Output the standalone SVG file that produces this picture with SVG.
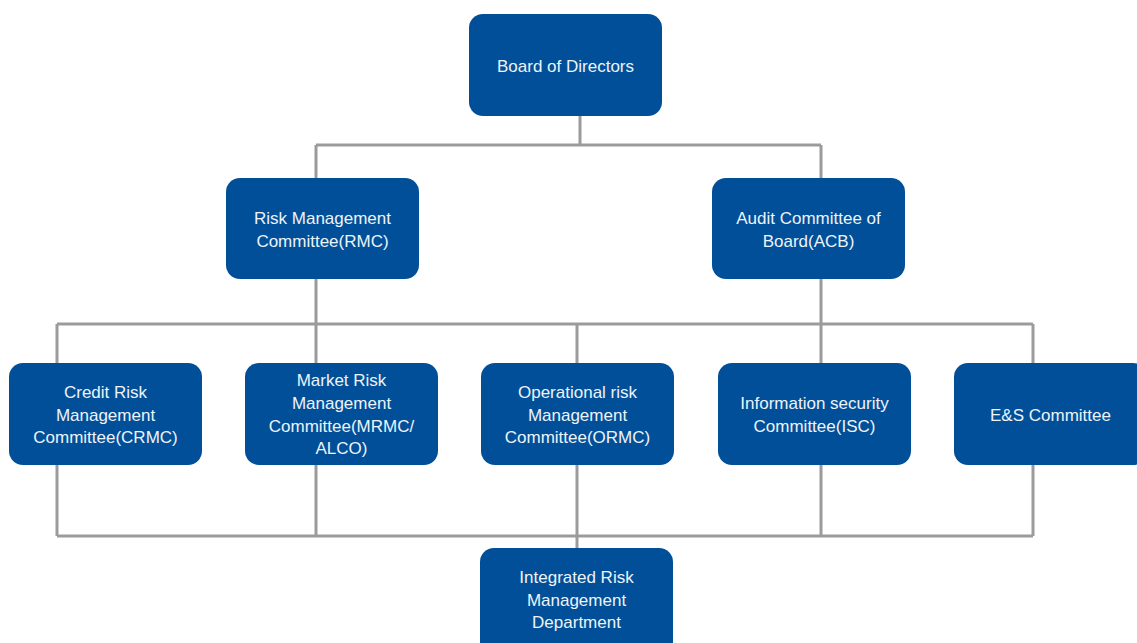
<svg xmlns="http://www.w3.org/2000/svg" width="1137" height="643" viewBox="0 0 1137 643">
<style>
.box{fill:#004f98;}
.t{font-family:"Liberation Sans",Arial,sans-serif;font-size:17px;fill:#eef3f8;text-anchor:middle;}
.c{stroke:#9b9b9b;stroke-width:3;fill:none;}
</style>
<rect width="1137" height="643" fill="#ffffff"/>
<g id="connectors">
<path class="c" d="M580 116V145M316 145H821M316 145V178M821 145V178"/>
<path class="c" d="M316 279V324M821 279V324M57 324H1033M57 324V363M316 324V363M577 324V363M821 324V363M1033 324V363"/>
<path class="c" d="M57 465V536M316 465V536M577 465V548M821 465V536M1033 465V536M57 536H1033"/>
</g>
<g id="board">
<rect class="box" x="469" y="14" width="193" height="102" rx="14"/>
<text class="t" x="565.5" y="72">Board of Directors</text>
</g>
<g id="rmc">
<rect class="box" x="226" y="178" width="193" height="101" rx="14"/>
<text class="t" x="322.5" y="224">Risk Management</text>
<text class="t" x="322.5" y="247">Committee(RMC)</text>
</g>
<g id="acb">
<rect class="box" x="712" y="178" width="193" height="101" rx="14"/>
<text class="t" x="808.5" y="224">Audit Committee of</text>
<text class="t" x="808.5" y="247">Board(ACB)</text>
</g>
<g id="crmc">
<rect class="box" x="9" y="363" width="193" height="102" rx="14"/>
<text class="t" x="105.5" y="398">Credit Risk</text>
<text class="t" x="105.5" y="420.5">Management</text>
<text class="t" x="105.5" y="443">Committee(CRMC)</text>
</g>
<g id="mrmc">
<rect class="box" x="245" y="363" width="193" height="102" rx="14"/>
<text class="t" x="341.5" y="386">Market Risk</text>
<text class="t" x="341.5" y="409">Management</text>
<text class="t" x="341.5" y="431.5">Committee(MRMC/</text>
<text class="t" x="341.5" y="454">ALCO)</text>
</g>
<g id="ormc">
<rect class="box" x="481" y="363" width="193" height="102" rx="14"/>
<text class="t" x="577.5" y="398">Operational risk</text>
<text class="t" x="577.5" y="420.5">Management</text>
<text class="t" x="577.5" y="443">Committee(ORMC)</text>
</g>
<g id="isc">
<rect class="box" x="718" y="363" width="193" height="102" rx="14"/>
<text class="t" x="814.5" y="409">Information security</text>
<text class="t" x="814.5" y="431.5">Committee(ISC)</text>
</g>
<g id="es">
<rect class="box" x="954" y="363" width="193" height="102" rx="14"/>
<text class="t" x="1050.5" y="420.5">E&amp;S Committee</text>
</g>
<g id="irmd">
<rect class="box" x="480" y="548" width="193" height="110" rx="14"/>
<text class="t" x="576.5" y="583">Integrated Risk</text>
<text class="t" x="576.5" y="606">Management</text>
<text class="t" x="576.5" y="628">Department</text>
</g>
</svg>
